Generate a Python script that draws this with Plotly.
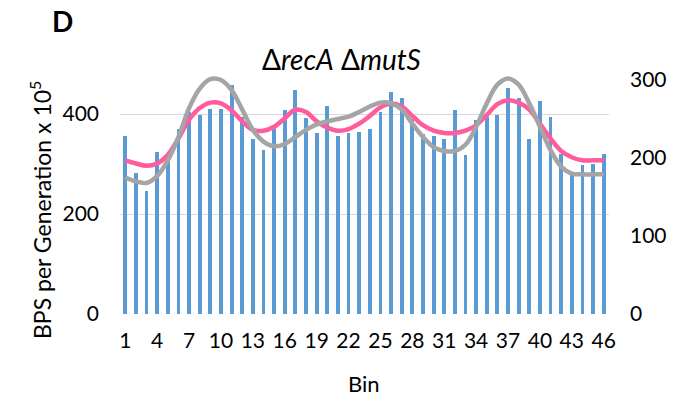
import plotly.graph_objects as go

# Bin index and per-bin base-pair-substitution rate (BPS per generation x 10^5)
bins = list(range(1, 47))
bps_rate = [357, 282, 247, 324, 318, 370, 405, 398, 411, 411,
            459, 395, 351, 329, 371, 409, 448, 393, 363, 417,
            357, 363, 365, 370, 405, 445, 433, 390, 360, 357,
            351, 409, 318, 388, 395, 399, 453, 433, 351, 426,
            395, 320, 278, 299, 300, 321]

# Fitted curves drawn against the secondary axis
fit_pink = [197, 193, 190, 193, 204, 225, 249, 264, 271, 270,
            261, 247, 236, 235, 240, 251, 262, 259, 247, 239,
            235, 237, 244, 254, 265, 270, 266, 254, 242, 235,
            232, 232, 235, 242, 255, 269, 274, 271, 262, 244,
            225, 209, 201, 197, 197, 197]
fit_grey = [175, 170, 168, 177, 197, 227, 264, 289, 301, 300,
            287, 262, 236, 221, 215, 218, 227, 236, 243, 247,
            250, 253, 259, 266, 271, 270, 262, 244, 227, 214,
            209, 209, 217, 240, 270, 294, 302, 294, 270, 240,
            210, 189, 180, 179, 179, 179]

x_ticks = list(range(1, 47, 3))
left_ticks = [0, 200, 400]
right_ticks = [0, 100, 200, 300]

FONT = "Lato, 'Open Sans', Arial, sans-serif"

# Plot-area geometry in page pixels
W, H = 684, 399
ML, MR, MT, MB = 120, 75, 64, 85

fig = go.Figure()
fig.add_trace(go.Bar(x=bins, y=bps_rate, width=0.36,
                     marker=dict(color="#5B9BD5", line=dict(width=0)),
                     showlegend=False))
fig.add_trace(go.Scatter(x=bins, y=fit_pink, yaxis="y2", mode="lines",
                         line=dict(color="#FF5C9E", width=4.5, shape="spline"),
                         showlegend=False))
fig.add_trace(go.Scatter(x=bins, y=fit_grey, yaxis="y2", mode="lines",
                         line=dict(color="#A5A5A5", width=4.5, shape="spline"),
                         showlegend=False))

fig.update_layout(
    width=W, height=H,
    margin=dict(l=ML, r=MR, t=MT, b=MB),
    paper_bgcolor="white", plot_bgcolor="white",
    font=dict(family=FONT, size=21, color="#000000"),
    bargap=0,
    xaxis=dict(range=[0.5, 46.5], tickmode="array", tickvals=x_ticks,
               ticktext=[str(t) for t in x_ticks],
               showgrid=False, zeroline=False, showline=False,
               ticks="", ticklabelstandoff=12, tickfont=dict(size=21)),
    yaxis=dict(range=[0, 500], tickmode="array", tickvals=left_ticks,
               showgrid=True, gridcolor="#D9D9D9", gridwidth=1.3,
               zeroline=False, showline=False, ticks="",
               ticklabelstandoff=20, tickfont=dict(size=21)),
    yaxis2=dict(range=[0, 320.5], overlaying="y", side="right",
                tickmode="array", tickvals=right_ticks,
                showgrid=False, zeroline=False, showline=False, ticks="",
                ticklabelstandoff=20, tickfont=dict(size=21)),
)


def page_label(text, px, py, size, angle=0):
    """Add a free-standing label positioned by page pixel coordinates."""
    fig.add_annotation(
        text=text, showarrow=False, textangle=angle,
        xref="paper", yref="paper",
        x=(px - ML) / (W - ML - MR), y=(H - MB - py) / (H - MT - MB),
        xanchor="center", yanchor="middle", font=dict(size=size),
    )


page_label("<b>D</b>", 62, 21, 28)
page_label("Δ<i>recA</i> Δ<i>mutS</i>", 341, 59, 28)
page_label("BPS per Generation x 10<sup>5</sup>", 40, 210, 23, angle=-90)
page_label("Bin", 364, 383, 22)

fig.write_html("out.html")
